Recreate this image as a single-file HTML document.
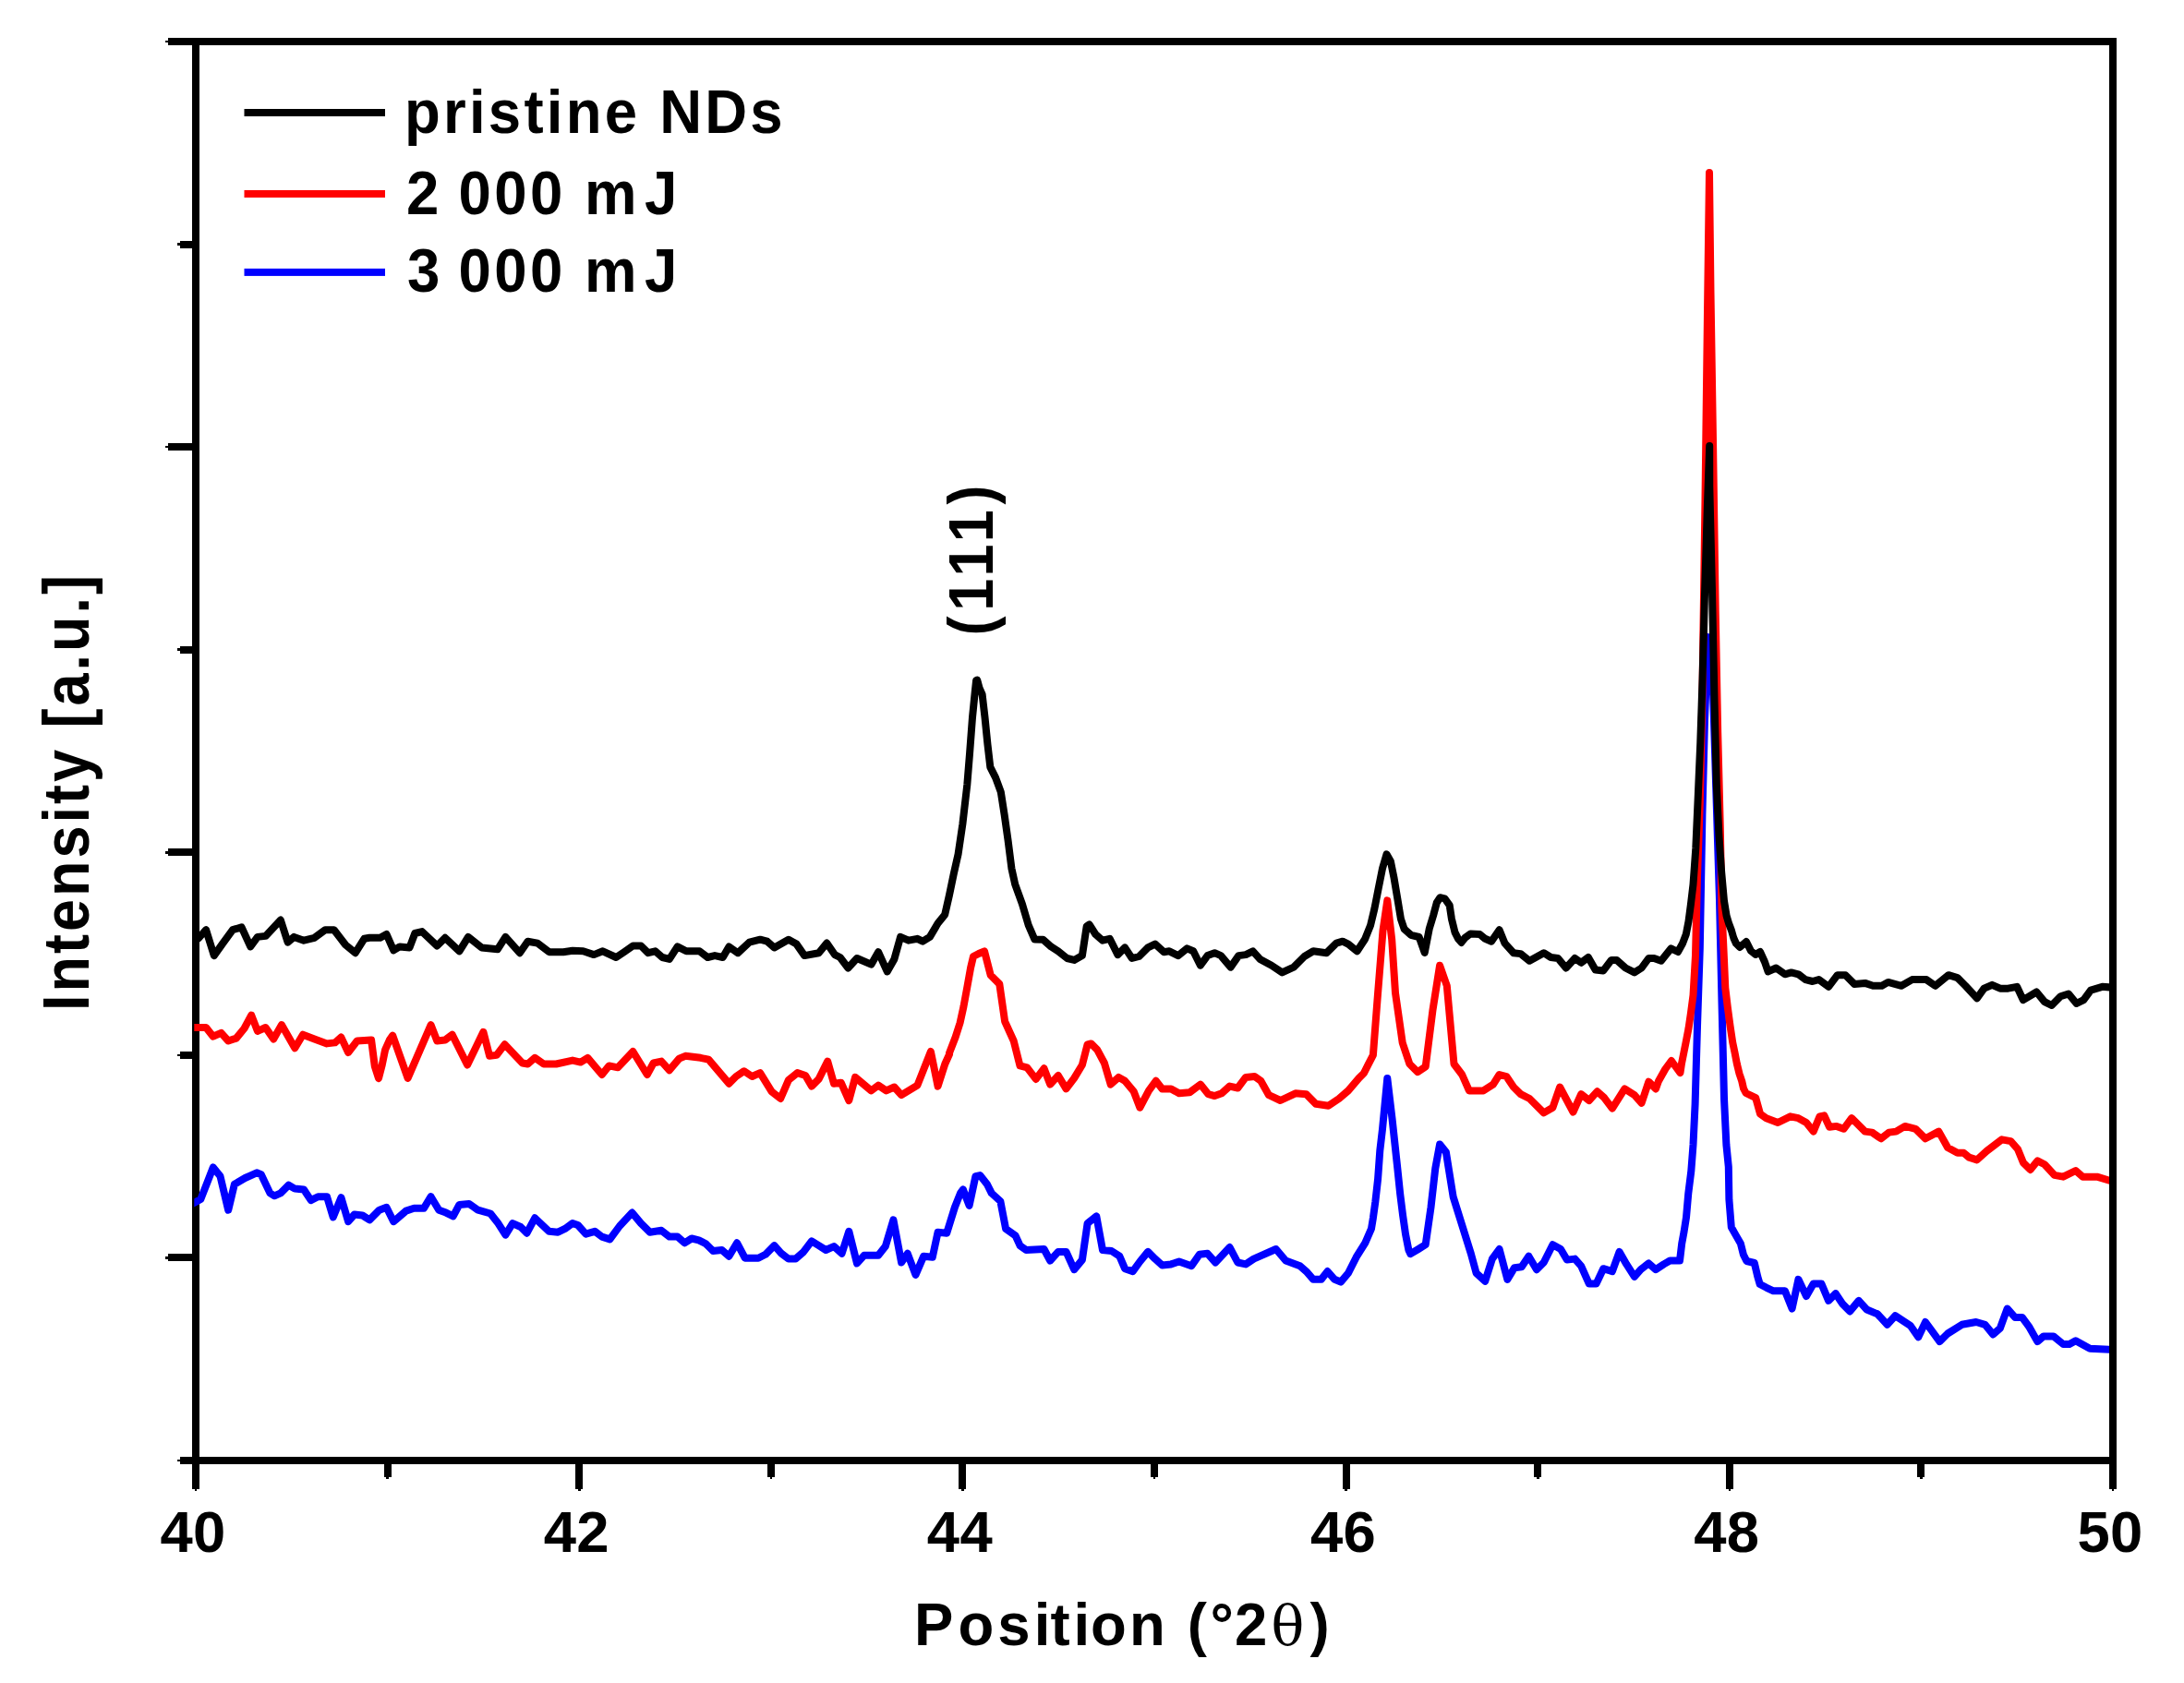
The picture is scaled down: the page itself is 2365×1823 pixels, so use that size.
<!DOCTYPE html>
<html lang="en"><head><meta charset="utf-8"><title>XRD pattern</title>
<style>html,body{margin:0;padding:0;background:#fff}body{width:2365px;height:1823px;position:relative;overflow:hidden}</style>
</head><body>
<svg width="2365" height="1823" viewBox="0 0 2365 1823" style="position:absolute;left:0;top:0">
<rect width="2365" height="1823" fill="#fff"/>
<g fill="#000" shape-rendering="crispEdges">
<rect x="182" y="41" width="2110" height="8"/>
<rect x="195" y="1578" width="2097" height="8"/>
<rect x="208" y="41" width="8" height="1572"/>
<rect x="2284" y="41" width="8" height="1572"/>
<rect x="195" y="260.6" width="17" height="8"/>
<rect x="192" y="263.3" width="3" height="2.6"/>
<rect x="182" y="480.1" width="30" height="8"/>
<rect x="179" y="482.8" width="3" height="2.6"/>
<rect x="195" y="699.7" width="17" height="8"/>
<rect x="192" y="702.4" width="3" height="2.6"/>
<rect x="182" y="919.3" width="30" height="8"/>
<rect x="179" y="922.0" width="3" height="2.6"/>
<rect x="195" y="1138.9" width="17" height="8"/>
<rect x="192" y="1141.6" width="3" height="2.6"/>
<rect x="182" y="1358.4" width="30" height="8"/>
<rect x="179" y="1361.1" width="3" height="2.6"/>
<rect x="415.6" y="1582" width="8" height="18"/>
<rect x="418.3" y="1600" width="2.6" height="2"/>
<rect x="623.2" y="1582" width="8" height="31"/>
<rect x="625.9" y="1613" width="2.6" height="2"/>
<rect x="830.8" y="1582" width="8" height="18"/>
<rect x="833.5" y="1600" width="2.6" height="2"/>
<rect x="1038.4" y="1582" width="8" height="31"/>
<rect x="1041.1" y="1613" width="2.6" height="2"/>
<rect x="1246.0" y="1582" width="8" height="18"/>
<rect x="1248.7" y="1600" width="2.6" height="2"/>
<rect x="1453.6" y="1582" width="8" height="31"/>
<rect x="1456.3" y="1613" width="2.6" height="2"/>
<rect x="1661.2" y="1582" width="8" height="18"/>
<rect x="1663.9" y="1600" width="2.6" height="2"/>
<rect x="1868.8" y="1582" width="8" height="31"/>
<rect x="1871.5" y="1613" width="2.6" height="2"/>
<rect x="2076.4" y="1582" width="8" height="18"/>
<rect x="2079.1" y="1600" width="2.6" height="2"/>
<rect x="179" y="43.7" width="3" height="2.6"/>
<rect x="192" y="1580.7" width="3" height="2.6"/>
<rect x="210.7" y="1613" width="2.6" height="2"/>
<rect x="2286.7" y="1613" width="2.6" height="2"/>
</g>
<clipPath id="plotclip"><rect x="210.3" y="0" width="2073.7" height="1823"/></clipPath>
<g clip-path="url(#plotclip)">
<polyline fill="none" stroke="#0000ff" stroke-width="8" stroke-linejoin="round" stroke-linecap="butt" points="208,1304.09 211.9,1302 217.3,1299.1 230.8,1264.5 238.5,1274.1 247.2,1310.7 253.9,1282.8 265.4,1276 278,1270.3 282.8,1272.2 292.4,1292.4 297.2,1295.3 303.9,1292.4 312.6,1283.7 319.3,1287.6 329,1288.5 336.7,1300.1 344.4,1296.2 354,1296.2 360.7,1318.4 369.4,1297.2 377.1,1323.2 383.8,1315.5 392.5,1316.5 400.2,1321.3 410.8,1310.7 418.5,1307.8 426.2,1323.2 439.7,1311.6 448.3,1308.8 458.9,1308.8 466.6,1296.2 475.3,1310.7 483,1313.6 490.7,1317.4 497.4,1304.9 508,1303.9 517.6,1310.7 531.1,1314.5 538.8,1324.2 547.4,1337.6 555.1,1325.1 563.8,1329 570.5,1335.7 579.2,1319.3 594.6,1333.8 604.2,1334.7 611.9,1330.9 620,1325.1 625.8,1327 634.4,1336.7 644.1,1333.8 651.8,1339.6 660.4,1342.4 671,1328 684.5,1313.6 694.1,1325.1 703.7,1334.7 716.2,1332.8 724.9,1339.6 733.6,1339.6 741.3,1346.3 749,1341.5 756.7,1343.4 764.4,1347.3 772.1,1355 781.7,1354 789.4,1360.7 798.1,1346.3 806.7,1362.7 821.2,1362.7 828.9,1358.8 838.5,1349.2 846.2,1357.8 853.9,1363.6 861.6,1363.6 870.2,1355.9 878.9,1344.4 886.6,1349.2 894.3,1354 903,1350.1 911.6,1357.8 919.3,1333.8 928,1368.4 935.7,1359.8 951.1,1359.8 958.8,1350.1 967.4,1321.3 976.1,1367.5 982.8,1357.8 991.5,1380.9 1000.2,1360.7 1009.8,1361.7 1015.6,1334.7 1025.2,1335.7 1033.9,1307.8 1040,1292.4 1042.9,1288.5 1049.6,1305.9 1056.4,1274.1 1061.2,1273.1 1068.9,1282.8 1073.7,1292.4 1083.3,1301.1 1089.1,1330.9 1099.7,1338.6 1104.5,1349.2 1111.2,1354 1130.5,1353 1137.2,1365.5 1145.9,1355.9 1154.5,1355.9 1163.2,1375.2 1171.9,1364.6 1177.6,1325.1 1187.3,1317.4 1194,1354 1203.6,1355 1212.3,1360.7 1218.1,1374.2 1226.7,1377.1 1234.4,1366.5 1243.1,1355.9 1250.8,1363.6 1258.5,1370.4 1268.1,1369.4 1276.8,1366.5 1290.2,1371.3 1298.9,1358.8 1307.6,1357.8 1316.2,1367.5 1331.6,1351.1 1340.3,1367.5 1349,1369.4 1357.6,1363.6 1381.7,1353 1392.3,1365.5 1407.7,1371.3 1415.4,1378.1 1422.1,1385.8 1430.8,1385.8 1437.5,1377.1 1445.2,1385.8 1451.9,1388.6 1460,1379 1468.7,1361.7 1478.3,1346.3 1485,1330.9 1486.9,1319.3 1489.3,1302 1492.1,1277 1494.3,1246.2 1497,1223.1 1502.3,1168 1507.5,1211.5 1510.4,1238.5 1513.3,1265.4 1516.2,1293.4 1519.1,1316.5 1522,1336.7 1525.4,1354 1527.4,1358.2 1536,1353 1543.7,1348.2 1549.5,1307.8 1554.3,1265.4 1559.1,1239.5 1565.9,1248.1 1573.6,1296.2 1583.2,1327 1592.8,1357.8 1598.6,1379 1608.2,1387.7 1615.9,1363.6 1623.6,1353 1632.3,1385.8 1640,1373.2 1647.7,1372.3 1655.4,1360.7 1664,1375.2 1671.7,1367.5 1681.4,1348.2 1690,1353 1696.8,1364.6 1705.4,1363.6 1712.2,1371.3 1720.8,1390.6 1728.5,1390.6 1736.2,1374.2 1745.9,1377.1 1753.6,1355.9 1761.3,1369.4 1769.9,1382.9 1776.7,1375.2 1785.3,1368.4 1793,1375.2 1801.7,1369.4 1808.4,1365.5 1819,1365.5 1821.2,1347 1823.6,1334 1826,1318.6 1828.3,1292.4 1831.3,1268.6 1833.5,1240 1835.6,1196 1838,1112 1840.8,1027 1843.4,883 1846,780 1849.5,690 1853.5,700 1859.5,895 1862,975 1864.5,1086 1867,1190 1869.4,1240 1871.8,1263.8 1872.4,1299.5 1874.8,1329.3 1879.5,1337.6 1884.9,1347 1887.9,1359 1891.4,1366 1899.8,1368 1903.3,1382.9 1905.7,1391 1912.9,1394.8 1920.4,1398.3 1932.9,1398.3 1940.6,1417.5 1947.4,1385.8 1956,1404 1963.7,1390.6 1972.4,1390.6 1980.1,1408.9 1987.8,1401.2 1995.5,1412.7 2003.2,1420.4 2012.8,1408.9 2021.5,1418.5 2033,1423.3 2043.6,1434.8 2052.3,1425.2 2068.6,1435.8 2077.3,1448.3 2085,1432 2100.4,1453.1 2109.1,1444.5 2124.5,1434.8 2139.9,1432 2149.5,1434.8 2158.2,1445.4 2165.9,1438.7 2173.6,1417.5 2182.2,1427.1 2189.9,1427.1 2197.6,1437.7 2206.3,1453.1 2213,1447.4 2223.6,1447.4 2234.2,1456 2240.9,1456 2247.7,1452.2 2263.1,1460.8 2288.1,1461.8"/>
<polyline fill="none" stroke="#ff0000" stroke-width="8" stroke-linejoin="round" stroke-linecap="butt" points="208,1113 211.9,1113 223.1,1113 230.8,1122.7 239.5,1118.8 247.2,1127.5 255.8,1124.6 264.5,1114 272.2,1099.6 278.9,1116.9 287.6,1113 296.2,1125.5 304.9,1110.1 319.3,1135.2 328,1120.7 340.5,1125.5 354,1130.4 362.7,1129.4 369.4,1123.6 377.1,1140 386.7,1127.5 402.1,1126.5 405.8,1155 410,1168.1 413.7,1153.8 417.1,1137.1 421.9,1126.3 425.2,1121.7 441.6,1167.9 466.6,1110.1 473.3,1127.5 482,1126.5 489.7,1120.7 506.1,1153.5 523.4,1117.8 530.1,1143.8 537.8,1142.9 546.5,1131.3 565.7,1151.5 571.5,1152.5 579.2,1145.8 588.8,1152.5 602.3,1152.5 620,1148.6 628.7,1150.6 636.4,1145.8 651.8,1164 659.5,1154.4 669.1,1156.3 685.4,1139 700.8,1164 707.6,1151.5 716.2,1149.6 724.9,1159.2 735.5,1146.7 742.2,1143.8 758.6,1145.8 767.3,1147.7 789.4,1173.7 797.1,1166 805.8,1160.2 814.4,1166 823.1,1162.1 835.6,1182.3 845.2,1190 853.9,1169.8 863.5,1162.1 872.2,1165 878.9,1176.6 886.6,1168.9 896.2,1149.6 903,1173.7 910.7,1172.7 919.3,1192 926.1,1166.9 943.4,1181.4 951.1,1175.6 959.7,1181.4 968.4,1177.5 976.1,1186.2 993.4,1175.6 1007.9,1139 1015.6,1176.6 1023.3,1152.5 1028.1,1141.9 1028,1140.6 1034.7,1123.3 1039.6,1107.9 1043.4,1090.6 1047.3,1069.4 1051.1,1048.2 1054,1036 1059.8,1033 1066,1030.3 1072.7,1056.2 1082.3,1065.9 1088.1,1106.3 1097.7,1127.5 1104.5,1154.4 1112.2,1156.3 1121.8,1168.9 1130.5,1157.3 1137.2,1174.6 1145.9,1165 1154.5,1179.4 1163.2,1167.9 1171.9,1153.5 1177.6,1131.3 1181.5,1130.4 1188.2,1137.1 1195.9,1151.5 1202.7,1174.6 1211.3,1166.9 1218.1,1170.8 1227.7,1182.3 1234.4,1199.7 1244,1181.4 1251.7,1170.8 1258.5,1179.4 1268.1,1179.4 1276.8,1184.3 1288.3,1183.3 1299.9,1174.6 1308.5,1185.2 1315.3,1187.1 1323,1184.3 1331.6,1176.6 1340.3,1178.5 1349,1166.9 1358.6,1166 1365.3,1170.8 1374,1186.2 1386.5,1192 1402.8,1184.3 1414.4,1185.2 1425,1195.8 1438.5,1197.7 1450,1190 1460,1181.4 1471.5,1167.9 1476.9,1162.5 1481.6,1153.1 1486.9,1142.9 1491.8,1079.3 1497.5,1008.1 1502.3,975.4 1507.2,1017.7 1511,1075.5 1518.7,1129.4 1526.4,1152.5 1535.1,1161.2 1543.7,1155.4 1551.4,1094.7 1559.1,1045.7 1566.8,1067.8 1574.5,1152.5 1583.2,1164 1590.9,1181.4 1606.3,1181.4 1616.9,1174.6 1623.6,1164 1631.3,1166 1639,1177.5 1646.7,1185.2 1656.3,1190 1671.7,1205.4 1681.4,1199.7 1689.1,1177.5 1703.5,1204.5 1712.2,1185.2 1720.8,1192 1729.5,1182.3 1737.2,1189.1 1745.9,1200.6 1759.3,1179.4 1769.9,1186.2 1777.6,1194.8 1785.3,1171.7 1793,1179.4 1796,1171 1803.3,1158 1809.9,1149 1815,1156 1819.5,1162 1821,1152 1823.4,1140 1825.8,1128 1828.5,1114 1831,1097 1833.5,1078 1836,1035 1838,950 1840.8,870 1843.5,750 1846.5,540 1849,338 1851,187 1852.5,317 1855.2,490 1857.7,662 1860.2,794 1862.8,897 1864.5,985 1867,1040 1868.3,1070 1870.8,1091 1873.5,1111 1876.2,1129 1878.5,1140 1880.8,1152 1883.5,1163 1886.2,1171 1888,1179 1890.6,1184 1901.2,1189.1 1906,1206.4 1912.7,1211.2 1925.2,1216 1938.7,1209.3 1947.4,1211.2 1956,1216 1963.7,1225.6 1970.5,1209.3 1975.3,1208.3 1981.1,1220.8 1988.8,1219.9 1996.5,1222.8 2005.1,1211.2 2019.6,1225.6 2027.3,1226.6 2036.9,1233.3 2045.5,1226.6 2053.2,1225.6 2062.9,1219.9 2074.4,1222.8 2085,1233.3 2099.4,1225.6 2109.1,1243 2119.7,1248.7 2126.4,1248.7 2132.2,1253.6 2140.8,1256.4 2151.4,1246.8 2167.8,1234.3 2177.4,1236.2 2185.1,1244.9 2190.9,1259.3 2198.6,1267 2206.3,1257.4 2214,1261.3 2224.6,1272.8 2234.2,1274.7 2247.7,1268 2255.4,1274.7 2270.8,1274.7 2288.1,1279.9"/>
<polyline fill="none" stroke="#000000" stroke-width="8" stroke-linejoin="round" stroke-linecap="butt" points="208,1021.93 211.9,1018.7 215.4,1015.8 223.1,1007.2 231.8,1035.1 241.4,1021.6 252,1007.2 261.6,1004.3 271.2,1025.4 278.9,1014.9 287.6,1013.9 303.9,996.6 311.6,1020.6 318.4,1014.9 329,1018.7 340.5,1015.8 352.1,1007.2 361.7,1007.2 374.2,1023.5 384.8,1032.2 394.4,1016.8 400.2,1015.8 411.7,1015.8 418.5,1012 426.2,1029.3 432.9,1025.4 443.5,1026.4 449.3,1011 457,1009.1 473.3,1024.5 482,1015.8 497.4,1030.3 507,1014.9 521.5,1026.4 538.8,1028.3 547.4,1014.9 562.8,1032.2 571.5,1019.7 582.1,1021.6 594.6,1031.2 610,1031.2 620,1029.7 631.5,1030.3 643.1,1034.1 652.7,1030.3 667.2,1037 675.8,1031.2 685.4,1024.5 694.1,1024.5 701.8,1032.2 709.5,1030.3 717.2,1037 724.9,1038.9 733.6,1025.4 743.2,1030.3 757.6,1030.3 766.3,1037 774,1035.1 782.7,1037 789.4,1025.4 799,1032.2 811.5,1020.6 823.1,1017.7 830.8,1019.7 838.5,1026.4 853.9,1017.7 862.5,1022.6 871.2,1035.1 886.6,1032.2 895.3,1021.6 903.9,1034.1 909.7,1037 918.4,1048.5 928,1038 943.4,1044.7 951.1,1031.2 960.7,1052.4 968.4,1038.9 975.1,1014.9 983.8,1018.7 993.4,1016.8 999.2,1019.7 1006.9,1014.9 1015.5,1000.3 1023.2,990.7 1028,969.5 1032.8,946.4 1037.6,925.2 1042.4,892.5 1047.3,850.1 1050.1,815.5 1053,777 1055.9,748.1 1057.1,737 1058.2,736.6 1060.5,745 1063.6,752 1066.5,777 1069.4,805.9 1072.3,830.9 1078.1,842.4 1083.8,857.8 1087.7,882.9 1091.5,909.8 1095.4,940.6 1099.2,957.9 1106.9,979.1 1113.7,1002.2 1120.4,1017.6 1129.5,1017.7 1138.2,1025.4 1145.9,1030.3 1155.5,1038 1163.2,1039.9 1171.9,1035.1 1176.7,1003.3 1179.6,1001.4 1186.3,1012 1194,1018.7 1201.7,1016.8 1210.4,1034.1 1218.1,1026.4 1225.8,1038 1233.5,1036 1243.1,1026.4 1250.8,1022.6 1260.4,1031.2 1266.2,1030.3 1275.8,1035.1 1285.4,1027.4 1292.2,1030.3 1299.9,1045.7 1307.6,1035.1 1315.3,1032.2 1322,1035.1 1332.6,1047.6 1341.3,1035.1 1349,1034.1 1356.7,1030.3 1364.4,1038.9 1376.9,1045.7 1388.4,1053.4 1400.9,1047.6 1412.5,1036 1422.1,1030.3 1436.5,1032.2 1447.1,1021.6 1453.9,1019.7 1460,1022.6 1469.6,1030.3 1478.1,1017.2 1484,1002.6 1488.4,984.2 1492.7,962.3 1497.1,940.3 1501.5,925.3 1505.9,933 1509.6,951.3 1513.3,973.3 1516.9,995.2 1520.6,1006.2 1527.9,1012.8 1536.7,1015 1542.7,1032 1547.7,1006.2 1552.1,991.6 1555.8,977.7 1559.4,972.2 1564.5,973.3 1569.7,980.6 1571.9,995.2 1575.5,1009.9 1579.2,1017.2 1582.5,1020.9 1586.5,1015.8 1592.4,1011.4 1602.4,1012 1608.2,1016.8 1615,1019.7 1623.6,1007.2 1629.4,1021.6 1639,1032.2 1646.7,1033.1 1656.3,1040.8 1671.7,1032.2 1679.4,1037 1687.1,1038 1695.8,1048.5 1705.4,1038 1712.2,1042.8 1719.9,1037 1727.6,1050.5 1736.2,1051.4 1744.9,1039.9 1750.7,1039.9 1760.3,1048.5 1769.9,1053.4 1777.6,1048.5 1785.3,1038 1791.1,1038 1798.8,1040.8 1809.4,1027.4 1817,1031 1822,1022 1825.8,1012 1828.5,998 1831,979 1833.5,958 1836.3,919 1838.9,860 1841.3,804 1843.6,735 1846,644 1848.8,551 1851.2,483 1851.3,527 1853.9,635 1856.5,757 1858.9,852 1861.5,906 1864.2,945 1867,976 1869.6,992 1872,1000 1875,1008 1877.3,1016 1880,1022 1884,1026 1891,1020 1896,1030 1901,1034 1906,1031 1911,1042 1914.6,1052.4 1923.3,1048.5 1932.9,1055.3 1939.7,1053.4 1947.4,1055.3 1955.1,1061.1 1962.8,1063 1969.5,1061.1 1980.1,1068.8 1989.7,1056.2 1998.4,1056.2 2008,1065.9 2019.6,1064.9 2028.2,1067.8 2037.8,1067.8 2044.6,1063.9 2059,1067.8 2070.6,1061.1 2086,1061.1 2095.6,1067.8 2110,1056.2 2119.7,1059.1 2128.3,1067.8 2140.8,1081.3 2148.5,1070.7 2157.2,1066.8 2165.9,1070.7 2174.5,1070.7 2184.1,1068.8 2190.9,1083.2 2205.3,1074.5 2214,1085.1 2221.7,1089 2231.3,1079.3 2240,1076.5 2248.6,1087 2256.3,1083.2 2264,1072.6 2276.5,1068.8 2288.1,1069.7"/>
</g>
<rect x="264.5" y="118" width="152.5" height="8" fill="#000"/>
<rect x="264.5" y="206" width="152.5" height="8" fill="#f00"/>
<rect x="264.5" y="290.9" width="152.5" height="8" fill="#00f"/>
<g font-family="'Liberation Sans', Arial, sans-serif" font-weight="bold" fill="#000">
<text x="209.0" y="1681" font-size="63.4" letter-spacing="0.3" text-anchor="middle">40</text>
<text x="624.2" y="1681" font-size="63.4" letter-spacing="0.3" text-anchor="middle">42</text>
<text x="1039.4" y="1681" font-size="63.4" letter-spacing="0.3" text-anchor="middle">44</text>
<text x="1454.6" y="1681" font-size="63.4" letter-spacing="0.3" text-anchor="middle">46</text>
<text x="1869.8" y="1681" font-size="63.4" letter-spacing="0.3" text-anchor="middle">48</text>
<text x="2285.0" y="1681" font-size="63.4" letter-spacing="0.3" text-anchor="middle">50</text>
<text transform="translate(0,1781.5) scale(1,1.02)" font-size="63.5"><tspan x="990.1 1037.4 1080.2 1119.8 1137.6 1162.6 1180.9 1223 1265 1285.7 1310.6 1337.1">Position (°2</tspan><tspan x="1376.5" font-size="59.5" font-family="'DejaVu Serif', 'Liberation Serif', serif" font-weight="normal">θ</tspan><tspan x="1418.4">)</tspan></text>
<text transform="translate(438,143.5) scale(1,1.04)" font-size="63.5" letter-spacing="3.25">pristine NDs</text>
<text transform="translate(0,231.6) scale(1,1.04)" font-size="63.5" x="440 478 496.5 535.2 573.9 612 632.9 697.9">2 000 mJ</text>
<text transform="translate(0,316.4) scale(1,1.04)" font-size="63.5" x="441 478 496.5 535.2 573.9 612 632.9 697.9">3 000 mJ</text>
<text transform="translate(95.8,1095) rotate(-90) scale(1,1.12)" font-size="63" letter-spacing="3.0">Intensity [a.u.]</text>
<text transform="translate(1074.6,688.5) rotate(-90) scale(1,1.088)" font-size="63" letter-spacing="5.7">(111)</text>
</g>
</svg>
</body></html>
